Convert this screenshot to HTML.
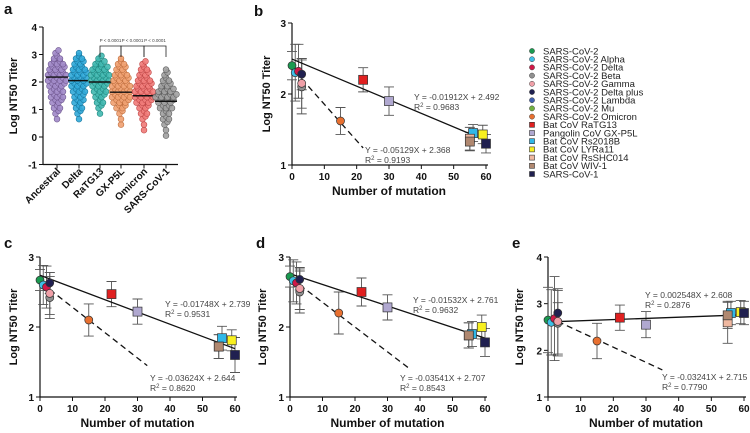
<!DOCTYPE html>
<html><head><meta charset="utf-8"><style>
body{margin:0;background:#fff}
svg{display:block;font-family:"Liberation Sans",Arial,sans-serif}
.tk{font-size:10px;font-weight:bold;fill:#111}
.tt{font-size:11px;font-weight:bold;fill:#111}
.eq{font-size:8.5px;fill:#444}
.pv{font-size:4.5px;fill:#444}
.lg{font-size:9.5px;fill:#222}
.pl{font-size:15px;font-weight:bold;fill:#111}
</style></head><body>
<svg id="fig" width="750" height="433" viewBox="0 0 750 433"></svg>
<script>
// ---- Panel a data: dot counts per 0.2-log bin (bins start at 0)
const aGroups=["Ancestral","Delta","RaTG13","GX-P5L","Omicron","SARS-CoV-1"];
const aMedians=[2.18,2.05,2.0,1.63,1.5,1.3];
const aBins0=[0,0,0,1,2,3,4,5,5,6,7,7,6,5,3,2];
const aBins1=[0,0,0,1,2,3,4,4,5,6,6,6,5,4,3,1];
const aBins2=[0,0,0,0,1,2,3,4,5,6,7,7,6,4,2,0];
const aBins3=[0,0,1,1,2,4,6,7,7,7,6,5,4,3,1,0];
const aBins4=[0,1,1,2,3,4,6,7,7,6,5,4,3,2,0,0];
const aBins5=[1,1,2,3,3,5,6,8,6,4,3,2,1,0,0,0];
const aTicks=[-1,0,1,2,3,4];
// ---- shared variant info
const variants=["SARS-CoV-2","SARS-CoV-2 Alpha","SARS-CoV-2 Delta","SARS-CoV-2 Beta","SARS-CoV-2 Gamma","SARS-CoV-2 Delta plus","SARS-CoV-2 Lambda","SARS-CoV-2 Mu","SARS-CoV-2 Omicron","Bat CoV RaTG13","Pangolin CoV GX-P5L","Bat CoV Rs2018B","Bat CoV LYRa11","Bat CoV RsSHC014","Bat CoV WIV-1","SARS-CoV-1"];
const colors=["#1a9a50","#3ec0e8","#d01848","#909090","#f0a0a8","#202050","#4060b0","#70b040","#e87030","#e02020","#b0a8d0","#30b8e8","#f8f020","#f0b8a0","#b08870","#202050"];
const shapes=["c","c","c","c","c","c","c","c","c","s","s","s","s","s","s","s"];
const mutations=[0,1,2,3,3,3,2,2,15,22,30,56,59,55,55,60];
const xTicks=[0,10,20,30,40,50,60];
// panel b
const bY=[2.4,2.3,2.32,2.1,2.15,2.28,null,null,1.62,2.2,1.9,1.45,1.43,1.37,1.33,1.3];
const bErr=[0.2,0.4,0.38,0.38,0.35,0.22,0,0,0.19,0.17,0.2,0.12,0.13,0.16,0.13,0.13];
const bLine=[-0.01912,2.492],bDash=[-0.05129,2.368];
// panel c
const cY=[2.67,2.6,2.57,2.42,2.48,2.63,null,null,2.1,2.47,2.22,1.84,1.81,1.72,1.72,1.6];
const cErr=[0.15,0.28,0.3,0.3,0.3,0.15,0,0,0.23,0.18,0.18,0.17,0.15,0.17,0.17,0.25];
const cLine=[-0.01748,2.739],cDash=[-0.03624,2.644];
// panel d
const dY=[2.72,2.66,2.63,2.5,2.55,2.68,null,null,2.2,2.5,2.28,1.9,2.0,1.88,1.88,1.78];
const dErr=[0.15,0.3,0.3,0.3,0.3,0.15,0,0,0.3,0.2,0.18,0.18,0.17,0.18,0.18,0.2];
const dLine=[-0.01532,2.761],dDash=[-0.03541,2.707];
// panel e
const eY=[2.65,2.6,2.68,2.58,2.62,2.8,null,null,2.2,2.7,2.55,2.8,2.82,2.6,2.75,2.8];
const eErr=[0.7,0.7,0.9,0.7,0.7,0.22,0,0,0.38,0.27,0.28,0.25,0.25,0.45,0.28,0.25];
const eLine=[0.002548,2.608],eDash=[-0.03241,2.715];

const svg=document.getElementById('fig');const NS="http://www.w3.org/2000/svg";
function mk(t,a,p){const e=document.createElementNS(NS,t);for(const k in a)e.setAttribute(k,a[k]);(p||svg).appendChild(e);return e;}
function tx(x,y,s,cls,extra,p){const e=mk('text',Object.assign({x:x,y:y,class:cls},extra||{}),p);e.textContent=s;return e;}

// ---------- Panel a
(function(){
 const g=mk('g',{});
 const pl=tx(4,14,'a','pl');
 const X0=43,Y=v=>137-v*27.5;
 const colX=[57,79,100,121,144,166];
 const fills=["#a088c8","#30a8d8","#40b8b0","#f0a070","#f07a78","#a0a0a0"];
 const strokes=["#705890","#1878a0","#208880","#c07040","#c04848","#606060"];
 const bins=[aBins0,aBins1,aBins2,aBins3,aBins4,aBins5];
 mk('line',{x1:X0,y1:Y(4),x2:X0,y2:Y(-1),stroke:'#111','stroke-width':1.2},g);
 mk('line',{x1:X0,y1:Y(-1),x2:178,y2:Y(-1),stroke:'#111','stroke-width':1.2},g);
 aTicks.forEach(t=>{mk('line',{x1:X0-4,y1:Y(t),x2:X0,y2:Y(t),stroke:'#111'},g);const e=tx(X0-6,Y(t)+4,String(t),'tk',{'text-anchor':'end'},g);});
 const yt=tx(0,0,'Log NT50 Titer','tt',{'text-anchor':'middle',transform:'translate(17,96) rotate(-90)'},g);
 
 bins.forEach((b,gi)=>{
  const cg=mk('g',{},g);
  b.forEach((n,bi)=>{for(let k=0;k<n;k++){const off=(k-(n-1)/2)*3.0;const c=mk('circle',{cx:colX[gi]+off,cy:Y(bi*0.2+0.1+((k%2)?0.05:-0.05)),r:2.9,fill:fills[gi],stroke:strokes[gi],'stroke-width':0.6,'fill-opacity':0.9},cg);}});
  const m=mk('line',{x1:colX[gi]-11,x2:colX[gi]+11,y1:Y(aMedians[gi]),y2:Y(aMedians[gi]),stroke:'#111','stroke-width':1.4},g);
  mk('line',{x1:colX[gi],y1:Y(-1),x2:colX[gi],y2:Y(-1)+4,stroke:'#111'},g);
  const l=tx(0,0,aGroups[gi],'tk',{'text-anchor':'end',transform:'translate('+(colX[gi]+4)+',172) rotate(-45)'},g);
  
 });
 const br=[[2,3],[3,4],[4,5]];
 br.forEach(p=>{const x1=colX[p[0]],x2=colX[p[1]];
  const path=mk('path',{d:`M${x1} 57V46H${x2}V57`,fill:'none',stroke:'#222','stroke-width':0.8},g);
  const t=tx((x1+x2)/2,42,'P < 0.0001','pv',{'text-anchor':'middle'},g);});
})();

// ---------- scatter panels
function panel(cfg){
 const g=mk('g',{});
 const X=v=>cfg.x0+(cfg.x60-cfg.x0)*v/60;
 const Y=v=>cfg.yb+(cfg.yt-cfg.yb)*(v-cfg.ymin)/(cfg.ymax-cfg.ymin);
 const pl=tx(cfg.lx,cfg.ly,cfg.id,'pl',{},g);
 mk('line',{x1:cfg.x0,y1:Y(cfg.ymax),x2:cfg.x0,y2:Y(cfg.ymin),stroke:'#111','stroke-width':1.2},g);
 mk('line',{x1:cfg.x0,y1:Y(cfg.ymin),x2:X(60)+2,y2:Y(cfg.ymin),stroke:'#111','stroke-width':1.2},g);
 for(let t=cfg.ymin;t<=cfg.ymax;t++){mk('line',{x1:cfg.x0-4,y1:Y(t),x2:cfg.x0,y2:Y(t),stroke:'#111'},g);const e=tx(cfg.x0-6,Y(t)+4,String(t),'tk',{'text-anchor':'end'},g);}
 xTicks.forEach(t=>{mk('line',{x1:X(t),y1:Y(cfg.ymin),x2:X(t),y2:Y(cfg.ymin)+4,stroke:'#111'},g);const e=tx(X(t),Y(cfg.ymin)+15,String(t),'tk',{'text-anchor':'middle'},g);});
 const yt=tx(0,0,'Log NT50 Titer','tt',{'text-anchor':'middle',transform:`translate(${cfg.ytx},${(Y(cfg.ymin)+Y(cfg.ymax))/2}) rotate(-90)`},g);
 const xt=tx((cfg.x0+X(60))/2,Y(cfg.ymin)+30,'Number of mutation','tt',{'text-anchor':'middle',style:'font-size:12px'},g);
 cfg.ys.forEach((v,i)=>{if(v==null)return;const x=X(mutations[i]),e=cfg.err[i];
  const eb=mk('path',{d:`M${x} ${Y(v+e)}V${Y(v-e)}M${x-5} ${Y(v+e)}h10M${x-5} ${Y(v-e)}h10`,stroke:'#555','stroke-width':0.9,fill:'none'},g);});
 const L=cfg.line,D=cfg.dash;
 const sl=mk('line',{x1:X(0),y1:Y(L[1]),x2:X(60),y2:Y(L[1]+L[0]*60),stroke:'#111','stroke-width':1.3},g);
 const dl=mk('line',{x1:X(3),y1:Y(D[1]+D[0]*3),x2:X(cfg.dend),y2:Y(D[1]+D[0]*cfg.dend),stroke:'#111','stroke-width':1.3,'stroke-dasharray':'6,4'},g);
 cfg.ys.forEach((v,i)=>{if(v==null)return;const x=X(mutations[i]),y=Y(v);let m;
  if(shapes[i]=='c')m=mk('circle',{cx:x,cy:y,r:4,fill:colors[i],stroke:'#333','stroke-width':0.7},g);
  else m=mk('rect',{x:x-4.5,y:y-4.5,width:9,height:9,fill:colors[i],stroke:'#333','stroke-width':0.7},g);
  });
 const f=n=>(n<0?'-':'')+Math.abs(n);
 const e1=tx(cfg.e1[0],cfg.e1[1],`Y = ${f(L[0])}X + ${L[1]}`,'eq',{},g);
 const r1=tx(cfg.e1[0],cfg.e1[1]+10,'','eq',{},g);r1.innerHTML='R<tspan dy="-3" font-size="6">2</tspan><tspan dy="3"> = '+cfg.r[0]+'</tspan>';
 const e2=tx(cfg.e2[0],cfg.e2[1],`Y = ${f(D[0])}X + ${D[1]}`,'eq',{},g);
 const r2=tx(cfg.e2[0],cfg.e2[1]+10,'','eq',{},g);r2.innerHTML='R<tspan dy="-3" font-size="6">2</tspan><tspan dy="3"> = '+cfg.r[1]+'</tspan>';
}
panel({id:'b',x0:292,x60:486,yb:165,yt:23,ymin:1,ymax:3,lx:254,ly:16,ytx:270,ys:bY,err:bErr,line:bLine,dash:bDash,dend:22,e1:[414,100],e2:[365,153],r:['0.9683','0.9193']});
panel({id:'c',x0:40,x60:235,yb:397,yt:257,ymin:1,ymax:3,lx:4,ly:248,ytx:17,ys:cY,err:cErr,line:cLine,dash:cDash,dend:33,e1:[165,307],e2:[150,381],r:['0.9531','0.8620']});
panel({id:'d',x0:290,x60:485,yb:397,yt:257,ymin:1,ymax:3,lx:256,ly:248,ytx:266,ys:dY,err:dErr,line:dLine,dash:dDash,dend:37,e1:[413,303],e2:[400,381],r:['0.9632','0.8543']});
panel({id:'e',x0:548,x60:744,yb:397,yt:257,ymin:1,ymax:4,lx:512,ly:248,ytx:523,ys:eY,err:eErr,line:eLine,dash:eDash,dend:35,e1:[645,298],e2:[662,380],r:['0.2876','0.7790']});

// legend
(function(){const g=mk('g',{});
 variants.forEach((v,i)=>{const y=51+i*8.2;const eg=mk('g',{},g);
  if(shapes[i]=='c')mk('circle',{cx:532,cy:y,r:2.6,fill:colors[i],stroke:'#444','stroke-width':0.5},eg);
  else mk('rect',{x:529.5,y:y-2.5,width:5,height:5,fill:colors[i],stroke:'#333','stroke-width':0.6},eg);
  tx(543,y+3.3,v,'lg',{},eg);});
})();
</script>
</body></html>
